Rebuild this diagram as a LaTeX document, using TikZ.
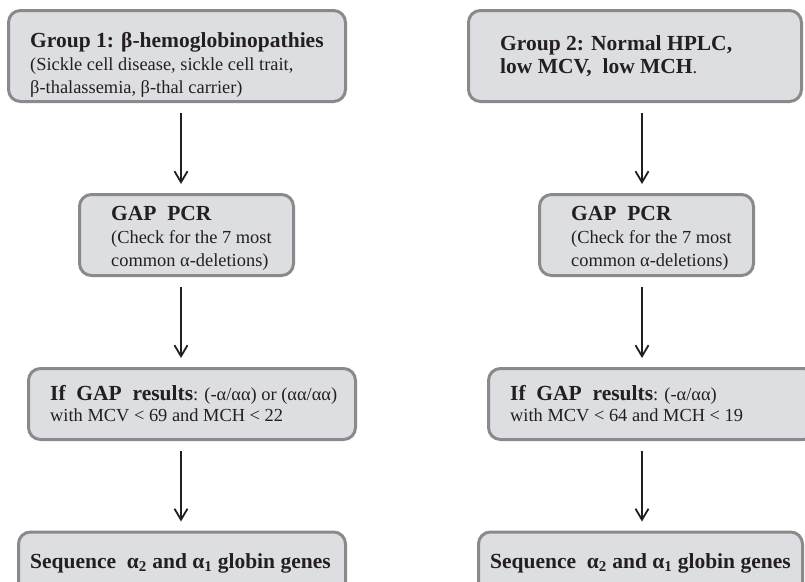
\documentclass[tikz,border=0pt]{standalone}
\usepackage{fontspec}
\setmainfont{Liberation Serif}
\usetikzlibrary{arrows, arrows.meta}

\definecolor{boxfill}{RGB}{221,222,225}
\definecolor{boxline}{RGB}{138,138,140}
\definecolor{ink}{RGB}{35,31,32}

\newcommand{\headtxt}{\fontsize{21.5}{23}\selectfont\bfseries}

\tikzset{
  box/.style={draw=boxline, line width=3pt, fill=boxfill, rounded corners=12pt},
  txt/.style={anchor=west, align=left, inner sep=0pt, text=ink, font=\fontsize{18.4}{23}\selectfont},
  arr/.style={-{Straight Barb[length=11pt, width=13pt, line width=1.8pt]}, line width=1.1pt, draw=ink, shorten <=10pt, shorten >=9pt}
}

\begin{document}
\begin{tikzpicture}[x=1pt, y=-1pt]
  \useasboundingbox (0,0) rectangle (805,581);

  % left column
  \node[box, minimum width=337pt, minimum height=91pt] (g1) at (177,56) {};
  \node[box, minimum width=214pt, minimum height=81pt] (pcr1) at (186.5,235) {};
  \node[box, minimum width=327pt, minimum height=71pt] (if1) at (192,404) {};
  \node[box, minimum width=327pt, minimum height=62pt] (seq1) at (182,563) {};

  \node[txt] (g1t) at ([xshift=23pt, yshift=-9pt]g1.west) {{\headtxt Group 1: β-hemoglobinopathies}\\(Sickle cell disease, sickle cell trait,\\β-thalassemia, β-thal carrier)};
  \node[txt] (pcr1t) at ([xshift=33pt, yshift=-3pt]pcr1.west) {{\headtxt GAP\ \ PCR}\\(Check for the 7 most\\common α-deletions)};
  \node[txt, font=\fontsize{18.4}{21}\selectfont] (if1t) at ([xshift=23pt]if1.west) {{\headtxt If\ \ GAP\ \ results}: (-α/αα) or (αα/αα)\\with MCV < 69 and MCH < 22};
  \node[txt] (seq1t) at ([xshift=13pt]seq1.west) {{\headtxt Sequence\ \ α\textsubscript{2} and α\textsubscript{1} globin genes}};

  % right column
  \node[box, minimum width=333pt, minimum height=91pt] (g2) at (635,56) {};
  \node[box, minimum width=214pt, minimum height=81pt] (pcr2) at (646.5,235) {};
  \node[box, minimum width=327pt, minimum height=71pt] (if2) at (652,404) {};
  \node[box, minimum width=324pt, minimum height=62pt] (seq2) at (640.5,563) {};

  \node[txt] (g2t) at ([xshift=33pt]g2.west) {{\headtxt Group 2: Normal HPLC,}\\{\headtxt low MCV,\ \ low MCH}.};
  \node[txt] (pcr2t) at ([xshift=33pt, yshift=-3pt]pcr2.west) {{\headtxt GAP\ \ PCR}\\(Check for the 7 most\\common α-deletions)};
  \node[txt, font=\fontsize{18.4}{21}\selectfont] (if2t) at ([xshift=23pt]if2.west) {{\headtxt If\ \ GAP\ \ results}: (-α/αα)\\with MCV < 64 and MCH < 19};
  \node[txt] (seq2t) at ([xshift=13pt]seq2.west) {{\headtxt Sequence\ \ α\textsubscript{2} and α\textsubscript{1} globin genes}};

  \coordinate (lx) at (181,0);
  \coordinate (rx) at (642,0);

  \draw[arr] (g1.south -| lx) -- (pcr1.north -| lx);
  \draw[arr] (pcr1.south -| lx) -- (if1.north -| lx);
  \draw[arr] (if1.south -| lx) -- (seq1.north -| lx);
  \draw[arr] (g2.south -| rx) -- (pcr2.north -| rx);
  \draw[arr] (pcr2.south -| rx) -- (if2.north -| rx);
  \draw[arr] (if2.south -| rx) -- (seq2.north -| rx);
\end{tikzpicture}
\end{document}
